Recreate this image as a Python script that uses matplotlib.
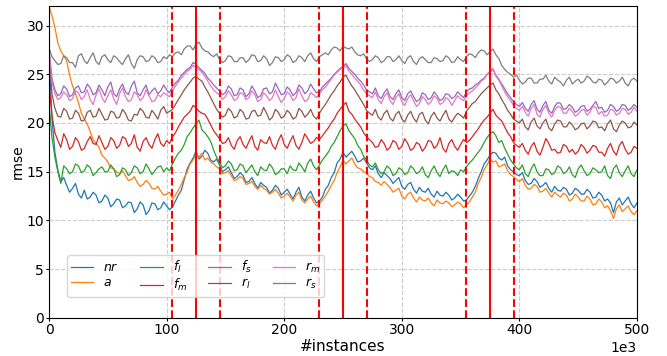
import numpy as np
import matplotlib
matplotlib.use("Agg")
import matplotlib.pyplot as plt

nr = [27.0, 20.5, 17.0, 15.2, 14.0, 14.4, 13.6, 12.9, 13.3, 13.8,
      12.7, 12.3, 13.1, 12.2, 12.4, 12.9, 12.6, 11.8, 12.0, 12.6,
      12.3, 11.4, 11.7, 12.2, 12.1, 11.3, 11.5, 11.9, 11.8, 10.8,
      11.2, 11.9, 11.6, 10.6, 11.0, 11.8, 11.7, 11.1, 11.3, 11.9,
      11.5, 11.1, 11.4, 12.0, 12.6, 13.1, 14.2, 15.3, 15.9, 16.4,
      17.1, 16.3, 16.6, 17.2, 16.9, 16.2, 16.0, 16.3, 15.7, 15.0,
      15.2, 15.5, 14.9, 14.3, 14.5, 14.9, 14.6, 13.9, 14.0, 14.4,
      13.8, 13.3, 13.9, 13.6, 13.4, 12.8, 13.1, 13.6, 13.3, 12.6,
      12.9, 13.2, 12.7, 12.2, 12.9, 13.4, 12.4, 12.0, 12.6, 13.0,
      12.3, 11.8, 12.0, 12.4, 13.2, 13.6, 14.4, 14.9, 15.9, 16.3,
      17.0, 16.5, 16.8, 17.1, 16.6, 16.0, 16.1, 16.4, 15.9, 15.4,
      15.2, 15.6, 14.8, 14.4, 14.9, 14.6, 14.3, 13.8, 14.1, 14.4,
      13.5, 13.2, 13.7, 13.9, 13.2, 12.8, 13.4, 13.0, 12.9, 13.3,
      12.7, 12.4, 13.0, 12.6, 12.5, 12.9, 12.6, 12.1, 12.3, 12.7,
      12.4, 12.0, 12.1, 12.5, 12.9, 13.5, 14.3, 15.0, 15.8, 16.2,
      16.7, 17.0, 16.9, 16.4, 16.2, 16.5, 15.6, 15.2, 15.0, 14.7,
      14.6, 14.9, 14.1, 13.7, 13.8, 14.3, 14.0, 13.4, 13.6, 13.9,
      13.3, 12.9, 13.5, 13.1, 13.0, 13.4, 13.2, 12.6, 12.8, 13.3,
      13.1, 12.7, 12.7, 13.2, 12.9, 12.3, 12.4, 12.9, 12.6, 12.0,
      12.2, 11.8, 10.8, 11.9, 12.3, 11.6, 12.0, 12.4, 11.7, 11.3,
      11.8]

a = [32.0, 31.0, 29.8, 28.2, 27.4, 26.9, 26.4, 24.9, 23.8, 23.0,
     22.1, 21.0, 20.4, 19.9, 19.1, 18.3, 17.9, 17.5, 16.7, 16.4,
     16.0, 15.4, 15.3, 15.0, 14.8, 15.1, 14.6, 14.1, 14.2, 14.5,
     13.9, 13.5, 13.7, 14.1, 13.8, 13.3, 13.2, 13.5, 13.0, 12.6,
     12.7, 12.9, 12.2, 12.6, 13.1, 13.7, 14.4, 15.0, 15.8, 16.2,
     16.8, 16.5, 16.9, 16.2, 16.4, 16.0, 15.8, 15.5, 15.3, 14.8,
     14.9, 15.1, 14.6, 14.1, 14.2, 14.5, 14.3, 13.7, 13.8, 14.0,
     13.5, 13.2, 13.6, 13.3, 13.1, 12.7, 12.9, 13.2, 12.8, 12.3,
     12.5, 12.8, 12.4, 12.0, 12.6, 12.9, 12.1, 11.8, 12.2, 12.5,
     11.9, 11.5, 11.7, 12.1, 12.5, 13.0, 13.6, 14.1, 14.9, 15.5,
     16.2, 15.8, 16.1, 16.4, 15.8, 15.4, 15.3, 15.0, 14.9, 14.5,
     14.4, 14.0, 13.9, 13.6, 14.0, 13.7, 13.4, 12.9, 13.1, 13.3,
     12.5, 12.2, 12.7, 12.9, 12.3, 11.9, 12.4, 12.1, 12.0, 12.3,
     11.8, 11.5, 12.1, 11.8, 11.7, 12.0, 11.8, 11.4, 11.6, 11.9,
     11.7, 11.3, 11.6, 11.9, 12.4, 12.9, 13.8, 14.4, 15.2, 15.7,
     16.3, 16.0, 16.1, 15.5, 15.6, 15.8, 15.1, 14.7, 14.5, 14.2,
     14.0, 14.3, 13.6, 13.2, 13.3, 13.7, 13.5, 12.9, 13.0, 13.3,
     12.8, 12.4, 12.9, 12.6, 12.4, 12.8, 12.6, 12.0, 12.2, 12.7,
     12.4, 12.0, 12.0, 12.5, 12.2, 11.6, 11.7, 12.2, 11.9, 11.3,
     11.5, 11.0, 10.2, 11.2, 11.6, 10.9, 11.2, 11.5, 10.9, 10.6,
     11.0]

f_l = [22.0, 18.5, 16.5, 15.0, 13.8, 15.6, 15.3, 14.8, 15.0, 15.8,
       15.6, 14.9, 15.1, 15.7, 15.4, 14.6, 14.9, 15.3, 15.5, 15.0,
       15.0, 15.7, 15.3, 14.5, 14.7, 15.4, 15.2, 14.6, 14.9, 15.6,
       15.4, 14.8, 15.0, 15.8, 15.3, 14.7, 15.1, 15.5, 15.6, 15.0,
       15.4, 15.1, 15.8, 16.4, 16.9, 17.2, 17.8, 18.6, 19.0, 19.5,
       19.9, 20.3, 19.3, 19.0, 18.6, 18.1, 17.2, 16.5, 16.0, 15.4,
       15.6, 16.1, 15.8, 15.1, 15.2, 15.8, 15.6, 14.9, 15.3, 15.7,
       15.0, 14.6, 15.5, 15.2, 15.1, 15.8, 15.4, 14.7, 14.9, 15.3,
       15.3, 14.8, 15.6, 15.2, 15.1, 15.9, 15.5, 15.0, 15.9, 16.3,
       15.6, 15.2, 15.7, 16.2, 16.6, 17.0, 17.6, 18.0, 18.6, 19.2,
       19.7, 19.9, 19.2, 18.8, 18.4, 17.7, 17.3, 16.6, 16.2, 15.7,
       15.5, 15.9, 15.2, 14.8, 15.0, 15.6, 15.3, 14.6, 14.8, 15.4,
       15.2, 14.7, 14.9, 15.6, 15.3, 14.8, 15.0, 15.5, 14.7, 14.4,
       15.1, 15.6, 14.9, 14.5, 15.2, 15.7, 14.8, 15.1, 15.0, 14.6,
       15.2, 15.0, 15.5, 15.9, 16.2, 16.6, 17.0, 17.4, 18.0, 18.5,
       18.9, 19.1, 18.7, 18.0, 18.2, 17.4, 16.8, 16.2, 15.8, 15.4,
       15.2, 15.7, 14.8, 14.5, 15.3, 15.8, 15.0, 14.6, 14.6, 15.3,
       15.2, 14.7, 14.9, 15.6, 15.4, 14.8, 15.0, 15.5, 14.7, 14.4,
       15.3, 15.7, 15.1, 14.6, 14.8, 15.4, 15.2, 14.9, 15.0, 15.6,
       14.6, 14.3, 15.3, 15.7, 14.9, 14.5, 15.1, 15.6, 14.8, 14.5,
       15.2]

f_m = [24.0, 20.8, 19.0, 18.2, 17.5, 18.9, 18.3, 17.3, 17.6, 18.5,
       18.1, 17.2, 17.4, 18.1, 18.6, 17.9, 17.8, 18.7, 18.0, 17.3,
       17.6, 18.5, 18.2, 17.4, 17.7, 18.6, 18.4, 17.6, 17.9, 18.8,
       17.5, 17.1, 18.1, 18.5, 17.8, 17.4, 18.3, 18.9, 17.9, 17.6,
       18.2, 17.9, 18.6, 19.0, 19.6, 20.1, 20.6, 20.9, 21.2, 21.8,
       21.6, 21.2, 21.0, 20.9, 20.4, 19.8, 19.2, 18.8, 18.4, 17.9,
       18.0, 18.5, 17.7, 17.3, 18.2, 18.6, 17.8, 17.4, 18.1, 18.7,
       17.6, 17.2, 18.3, 18.0, 17.9, 18.6, 17.7, 17.3, 18.2, 18.8,
       17.8, 17.4, 18.1, 18.7, 17.7, 17.3, 18.0, 18.9, 18.4, 17.9,
       18.1, 18.5, 18.3, 18.7, 19.1, 19.5, 20.0, 20.4, 21.0, 21.4,
       21.8, 22.1, 21.2, 20.9, 20.4, 20.0, 19.6, 19.0, 18.6, 18.3,
       18.0, 17.5, 17.6, 18.3, 17.9, 17.2, 17.5, 18.2, 18.0, 17.3,
       17.6, 18.4, 17.9, 17.2, 17.4, 18.0, 17.8, 17.1, 17.5, 18.2,
       18.1, 17.4, 17.7, 18.5, 17.4, 17.0, 17.9, 18.3, 17.6, 17.2,
       17.8, 18.3, 18.0, 18.2, 18.6, 19.0, 19.4, 19.9, 20.3, 20.6,
       21.0, 21.4, 20.8, 20.5, 20.2, 19.6, 19.0, 18.6, 18.0, 17.7,
       17.5, 17.9, 17.2, 16.8, 17.6, 18.0, 17.1, 16.7, 17.5, 18.4,
       17.9, 17.2, 17.3, 16.9, 17.0, 17.8, 17.6, 17.0, 17.3, 16.8,
       17.1, 17.8, 17.5, 16.9, 17.2, 17.7, 17.6, 17.0, 17.0, 16.6,
       17.4, 17.9, 17.1, 16.7, 17.7, 18.1, 17.3, 16.8, 17.0, 17.6,
       17.4]

f_s = [27.5, 24.6, 23.4, 22.8, 23.0, 23.8, 23.5, 22.7, 22.9, 23.6,
       23.8, 23.1, 23.2, 24.0, 23.6, 22.9, 23.1, 23.9, 23.4, 22.8,
       23.7, 24.2, 23.0, 22.7, 23.5, 24.0, 23.2, 22.9, 23.8, 24.3,
       23.1, 22.8, 23.4, 23.9, 22.9, 23.3, 23.6, 23.0, 23.3, 23.9,
       23.4, 23.1, 23.7, 24.1, 24.4, 24.9, 25.2, 25.5, 25.7, 26.2,
       26.0, 25.7, 25.4, 25.1, 24.6, 24.3, 23.9, 23.6, 23.3, 22.9,
       23.1, 23.8, 23.5, 22.8, 22.9, 23.6, 23.4, 22.7, 23.0, 23.8,
       23.3, 22.6, 22.8, 23.5, 23.6, 23.0, 23.2, 24.1, 23.5, 22.9,
       23.0, 23.7, 23.4, 22.8, 23.1, 23.9, 23.6, 23.0, 23.3, 24.0,
       23.5, 23.1, 23.2, 23.7, 24.0, 24.3, 24.6, 25.0, 25.3, 25.6,
       25.8, 26.1, 25.6, 25.3, 25.0, 24.6, 24.3, 23.9, 23.4, 23.2,
       23.0, 23.6, 22.8, 22.5, 23.1, 23.5, 22.7, 22.4, 23.0, 23.4,
       22.6, 22.3, 23.0, 23.3, 22.7, 22.2, 22.4, 23.1, 22.9, 22.4,
       22.6, 23.2, 22.8, 22.3, 22.5, 23.0, 22.9, 22.5, 22.7, 23.2,
       22.9, 22.6, 23.2, 23.5, 23.6, 23.9, 24.1, 24.4, 24.6, 25.0,
       25.2, 25.5, 24.9, 24.5, 24.0, 23.5, 23.0, 22.6, 22.2, 21.9,
       21.7, 22.1, 21.5, 21.2, 21.9, 22.3, 21.4, 21.1, 21.8, 22.2,
       21.3, 21.0, 21.7, 22.1, 22.0, 21.4, 21.5, 21.9, 21.6, 21.1,
       21.3, 21.7, 21.8, 21.2, 21.4, 21.8, 22.2, 21.5, 21.6, 21.1,
       21.3, 21.9, 21.7, 21.2, 21.4, 21.9, 21.8, 21.3, 21.5, 21.9,
       21.6]

r_l = [27.5, 23.0, 21.5, 20.7, 20.6, 21.5, 21.2, 20.4, 20.5, 21.3,
       21.0, 20.2, 20.3, 21.1, 21.3, 20.6, 20.7, 21.5, 20.9, 20.3,
       20.4, 21.2, 21.1, 20.5, 20.6, 21.4, 21.0, 20.3, 20.2, 20.9,
       20.8, 21.5, 21.2, 20.6, 20.5, 21.3, 20.9, 20.4, 21.3, 21.7,
       21.0, 21.2, 21.4, 21.9, 22.4, 22.9, 23.4, 23.8, 24.2, 24.6,
       24.8, 24.5, 24.3, 23.7, 23.2, 22.6, 22.0, 21.4, 21.0, 20.6,
       20.8, 21.5, 21.2, 20.5, 20.7, 21.4, 21.1, 20.4, 20.5, 21.2,
       21.3, 20.7, 20.8, 21.6, 21.0, 20.3, 20.6, 21.4, 21.1, 20.5,
       20.7, 21.3, 21.0, 20.4, 20.6, 21.5, 21.2, 20.6, 20.9, 21.4,
       20.7, 20.4, 21.0, 21.5, 21.9, 22.4, 22.9, 23.3, 23.8, 24.2,
       24.7, 24.9, 24.3, 23.8, 23.4, 22.9, 22.4, 21.9, 21.3, 21.0,
       20.8, 21.4, 20.6, 20.3, 21.0, 21.3, 20.5, 20.2, 20.9, 21.2,
       20.4, 20.1, 20.8, 21.2, 20.5, 20.1, 20.9, 21.1, 20.3, 19.9,
       20.7, 21.1, 20.5, 20.2, 20.8, 21.3, 20.4, 20.1, 20.6, 21.0,
       20.8, 20.5, 21.2, 21.6, 22.0, 22.2, 22.6, 23.0, 23.3, 23.6,
       23.9, 24.1, 23.4, 23.0, 22.4, 21.9, 21.3, 20.9, 20.4, 20.2,
       20.0, 20.4, 19.6, 19.3, 20.1, 20.5, 19.7, 19.4, 20.0, 20.4,
       19.5, 19.2, 19.9, 20.3, 20.2, 19.6, 19.6, 20.1, 19.8, 19.3,
       19.5, 19.9, 20.0, 19.4, 19.7, 20.2, 20.1, 19.5, 19.6, 19.2,
       19.9, 20.3, 19.4, 19.1, 19.8, 20.2, 20.0, 19.5, 19.6, 20.1,
       19.8]

r_m = [27.5, 24.2, 23.0, 22.4, 22.6, 23.2, 22.9, 22.3, 22.5, 23.3,
       23.1, 22.4, 22.7, 23.4, 22.4, 21.9, 22.9, 23.5, 22.6, 22.1,
       22.8, 23.4, 22.5, 21.9, 23.0, 23.6, 22.7, 22.2, 22.4, 23.2,
       22.9, 22.3, 22.6, 23.4, 22.8, 22.2, 22.3, 22.9, 22.7, 23.1,
       22.9, 22.7, 23.3, 23.8, 24.2, 24.6, 25.0, 25.3, 25.5, 25.9,
       25.7, 25.5, 25.2, 24.8, 24.3, 23.8, 23.4, 23.1, 22.9, 22.4,
       22.7, 23.3, 22.9, 22.3, 22.5, 23.1, 23.0, 22.4, 22.6, 23.3,
       22.9, 22.2, 22.4, 23.1, 22.8, 22.3, 22.6, 23.4, 22.7, 22.1,
       22.5, 23.2, 22.9, 22.3, 22.6, 23.5, 22.8, 22.2, 22.4, 23.1,
       22.9, 22.6, 23.0, 23.4, 23.7, 24.1, 24.5, 24.9, 25.2, 25.5,
       25.6, 25.9, 25.3, 25.0, 24.6, 24.3, 23.9, 23.4, 23.0, 22.8,
       22.6, 23.2, 22.4, 22.0, 22.7, 23.1, 22.3, 21.9, 22.6, 23.0,
       22.2, 21.8, 22.5, 22.9, 22.3, 21.7, 22.0, 22.7, 22.4, 21.9,
       22.2, 22.8, 22.5, 21.9, 22.1, 22.6, 22.4, 21.8, 22.3, 22.8,
       22.5, 22.3, 22.8, 23.1, 23.3, 23.6, 23.9, 24.3, 24.5, 25.0,
       25.3, 25.6, 24.8, 24.4, 23.8, 23.2, 22.7, 22.3, 21.8, 21.5,
       21.3, 21.7, 21.1, 20.7, 21.5, 21.9, 20.9, 20.6, 21.4, 21.8,
       21.0, 20.6, 21.3, 21.7, 21.6, 21.0, 21.0, 21.5, 21.2, 20.7,
       20.9, 21.3, 21.4, 20.8, 21.1, 21.7, 21.6, 20.9, 21.2, 20.7,
       20.8, 21.4, 21.3, 20.8, 21.0, 21.5, 21.4, 20.9, 21.1, 21.6,
       21.2]

r_s = [27.7, 26.8, 26.4, 26.0, 26.1, 26.9, 26.7, 26.2, 26.2, 25.7,
       26.9, 27.1, 26.4, 26.1, 26.7, 27.2, 26.3, 26.0, 26.8, 27.0,
       26.5, 26.2, 26.9, 26.7, 26.3, 26.0, 26.6, 27.0, 26.1, 25.6,
       26.5, 26.9, 26.8, 26.3, 26.4, 26.9, 26.7, 26.2, 26.3, 26.8,
       26.6, 27.0, 26.8, 27.2, 27.3, 27.0, 27.6, 27.9, 27.9, 27.5,
       28.1, 28.3, 27.7, 27.4, 27.3, 27.0, 26.8, 27.1, 26.5, 26.2,
       26.4, 26.9, 26.8, 26.3, 26.3, 26.7, 26.7, 26.2, 26.5, 27.0,
       26.9, 26.3, 26.4, 26.9, 26.6, 25.9, 26.2, 26.8, 26.7, 26.3,
       26.5, 27.0, 26.8, 26.2, 26.4, 26.9, 26.7, 26.3, 26.9, 27.2,
       26.6, 26.3, 26.8, 27.0, 27.2, 27.0, 27.5, 27.8, 27.7, 27.4,
       27.9, 27.7, 27.6, 27.8, 27.3, 27.0, 26.9, 27.1, 26.6, 26.3,
       26.5, 26.9, 26.7, 26.2, 26.4, 26.8, 26.8, 26.3, 26.5, 26.9,
       26.4, 26.1, 26.7, 26.9, 26.3, 26.0, 26.6, 26.8, 26.5, 26.2,
       26.2, 26.7, 26.6, 26.3, 26.4, 26.9, 26.7, 26.2, 26.3, 26.8,
       26.5, 26.3, 26.8, 27.1, 27.0, 26.7, 27.2, 27.5, 27.4, 27.0,
       27.3, 27.6, 27.0, 26.6, 25.9, 25.5, 25.2, 25.0, 24.7, 24.9,
       24.4, 24.0, 24.2, 24.6, 24.6, 24.1, 24.1, 24.5, 24.5, 24.9,
       24.3, 24.0, 24.7, 24.4, 24.2, 23.8, 24.4, 24.7, 24.0, 24.3,
       24.5, 24.1, 24.3, 24.8, 24.6, 24.2, 24.1, 24.5, 24.4, 23.9,
       24.2, 24.6, 24.5, 24.1, 24.3, 24.7, 24.1, 23.8, 24.4, 24.6,
       24.3]

series = [nr, a, f_l, f_m, f_s, r_l, r_m, r_s]
labels = ["$nr$", "$a$", "$f_l$", "$f_m$", "$f_s$", "$r_l$", "$r_m$", "$r_s$"]

drift_start = [105, 230, 355]   # dashed
drift_mid = [125, 250, 375]     # solid
drift_end = [145, 270, 395]     # dashed

for s in series:
    assert len(s) == 201, len(s)
x = np.arange(201) * 2500

fig, ax = plt.subplots(figsize=(6.67, 3.56), dpi=100)
fig.subplots_adjust(left=0.0735, right=0.955, bottom=0.107, top=0.983)

for i, (ys, lab) in enumerate(zip(series, labels)):
    ax.plot(x, ys, color="C%d" % i, lw=0.9, label=lab)

for d in drift_start + drift_end:
    ax.axvline(d * 1000, color="red", ls="--", lw=1.5)
for d in drift_mid:
    ax.axvline(d * 1000, color="red", ls="-", lw=1.5)

ax.set_xlim(0, 500000)
ax.set_ylim(0, 32)
ax.set_yticks([0, 5, 10, 15, 20, 25, 30])
ax.ticklabel_format(style="sci", axis="x", scilimits=(3, 3))
ax.grid(True, ls="--", color="#cccccc", lw=0.8)
ax.tick_params(labelsize=10, length=2, pad=1.6)
ax.set_xlabel("#instances", fontsize=11, labelpad=1.5)
ax.set_ylabel("rmse", fontsize=10, labelpad=1)
ax.xaxis.get_offset_text().set_fontsize(10)

ax.legend(loc="lower left", ncol=4, fontsize=9, bbox_to_anchor=(0.0306, 0.067),
          borderaxespad=0, borderpad=0.3, labelspacing=0.15,
          handlelength=1.8, handletextpad=0.8, columnspacing=1.7)

fig.savefig("out.png", dpi=100)
